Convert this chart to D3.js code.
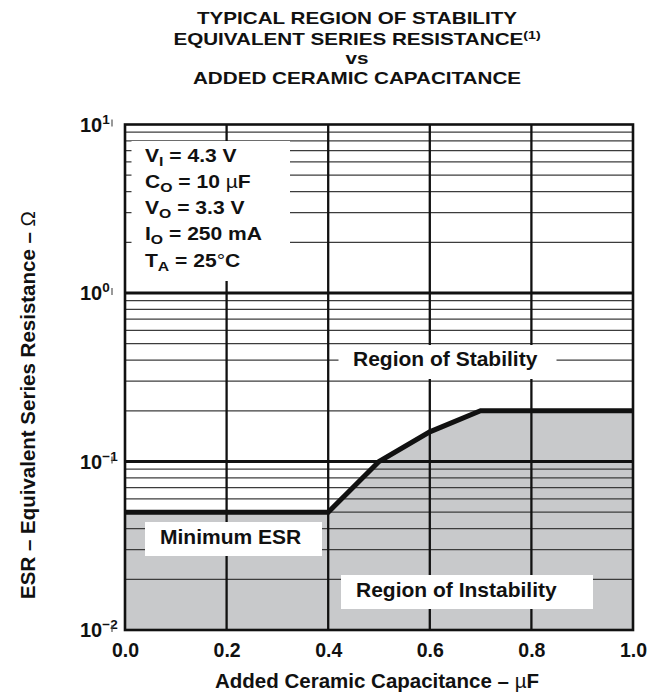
<!DOCTYPE html>
<html><head><meta charset="utf-8">
<script src="https://cdn.jsdelivr.net/npm/d3@7"></script>
<style>
body{margin:0;background:#fff}
text{font-family:"Liberation Sans",Arial,Helvetica,sans-serif;font-weight:bold;fill:#111}
</style>
</head><body>
<svg id="c" width="647" height="694"></svg>
<script>
// ---------- data ----------
const capacitance = [0, 0.4, 0.5, 0.6, 0.7, 1.0];          // µF
const minimumESR  = [0.05, 0.05, 0.1, 0.15, 0.2, 0.2];     // Ω
const xTickValues = [0, 0.2, 0.4, 0.6, 0.8, 1.0];
const yDecades    = [0.01, 0.1, 1, 10];
const yExponents  = ["−2", "−1", "0", "1"];
const titleLines  = ["TYPICAL REGION OF STABILITY", "EQUIVALENT SERIES RESISTANCE", "vs", "ADDED CERAMIC CAPACITANCE"];
const titleNote   = "(1)";
const legendLines = [["V","I"," = 4.3 V"],["C","O"," = 10 ","µ","F"],["V","O"," = 3.3 V"],["I","O"," = 250 mA"],["T","A"," = 25","°","C"]];
const regionLabels = ["Region of Stability", "Minimum ESR", "Region of Instability"];
const xTitle = "Added Ceramic Capacitance – ";
const yTitle = "ESR – Equivalent Series Resistance – ";

// ---------- scales ----------
const svg = d3.select("#c");
const x = d3.scaleLinear().domain([0, 1]).range([125, 633]);
const y = d3.scaleLog().domain([0.01, 10]).range([630, 124.5]);
const isDecade = v => Math.abs(Math.log10(v) - Math.round(Math.log10(v))) < 1e-6;
const pts = d3.zip(capacitance, minimumESR);

// helper: stretched text group
function stext(parent, tx, ty, size, sx, anchor, rot) {
  const g = parent.append("g").attr("transform",
    `translate(${tx},${ty})` + (rot ? ` rotate(${rot})` : "") + ` scale(${sx},1)`);
  return g.append("text").attr("font-size", size).attr("text-anchor", anchor || "start");
}

// ---------- fill (region of instability) ----------
svg.append("path").datum(pts)
  .attr("d", d3.area().x(d => x(d[0])).y0(y(0.01)).y1(d => y(d[1])))
  .attr("fill", "#c8c9cb");

// ---------- horizontal grid ----------
const gridY = y.ticks().filter(v => v > 0.0100001 && v < 9.9999);
svg.append("g").selectAll("line").data(gridY).join("line")
  .attr("x1", x(0)).attr("x2", x(1))
  .attr("y1", d => y(d)).attr("y2", d => y(d))
  .attr("stroke", d => isDecade(d) ? "#111" : "#3c3c3c")
  .attr("stroke-width", d => isDecade(d) ? 2.8 : 1.2);

// ---------- vertical grid ----------
svg.append("g").selectAll("line").data(xTickValues.slice(1, -1)).join("line")
  .attr("x1", d => x(d)).attr("x2", d => x(d))
  .attr("y1", y(10)).attr("y2", y(0.01))
  .attr("stroke", "#111").attr("stroke-width", 2.3);

// ---------- curve ----------
svg.append("path").datum(pts)
  .attr("d", d3.line().x(d => x(d[0])).y(d => y(d[1])))
  .attr("fill", "none").attr("stroke", "#111").attr("stroke-width", 5)
  .attr("stroke-linejoin", "miter");

// ---------- white boxes ----------
const boxes = [
  [131.5, 141, 158.5, 140],   // legend
  [338.5, 345, 218, 34],      // stability
  [145, 522, 177, 34],        // minimum ESR
  [341, 575, 252, 34]         // instability
];
svg.append("g").selectAll("rect").data(boxes).join("rect")
  .attr("x", d => d[0]).attr("y", d => d[1]).attr("width", d => d[2]).attr("height", d => d[3])
  .attr("fill", "#fff");

// ---------- border ----------
svg.append("rect").attr("x", x(0)).attr("y", y(10))
  .attr("width", x(1) - x(0)).attr("height", y(0.01) - y(10))
  .attr("fill", "none").attr("stroke", "#111").attr("stroke-width", 2.6);

// ---------- legend ----------
legendLines.forEach((ln, i) => {
  const t = stext(svg, 145, 161.5 + i * 26.3, 18, 1.17, "start");
  t.append("tspan").text(ln[0]);
  t.append("tspan").attr("font-size", 13.5).attr("dy", 4).text(ln[1]);
  t.append("tspan").attr("dy", -4).text(ln[2]);
  if (ln.length > 3) {
    t.append("tspan").attr("font-weight", "normal").text(ln[3]);
    t.append("tspan").text(ln[4]);
  }
});

// ---------- region labels ----------
const labelPos = [[353, 366], [160, 544], [356, 597]];
regionLabels.forEach((s, i) => {
  stext(svg, labelPos[i][0], labelPos[i][1], 21, 1, "start").text(s);
});

// ---------- title ----------
const titleY = [24, 45, 63.5, 84];
titleLines.forEach((s, i) => {
  const t = stext(svg, 357, titleY[i], 16, 1.29, "middle");
  t.append("tspan").text(s);
  if (i === 1) t.append("tspan").attr("font-size", 11).attr("dy", -6).text(titleNote);
});

// ---------- x axis ----------
const xAxis = svg.append("g").attr("transform", `translate(0,${y(0.01)})`)
  .call(d3.axisBottom(x).tickValues(xTickValues).tickFormat(d3.format(".1f")).tickSize(0));
xAxis.select(".domain").remove();
xAxis.selectAll("text").attr("y", 27).attr("dy", 0)
  .attr("font-size", 19.5).attr("font-family", null).attr("fill", "#111");
xAxis.attr("font-family", null).attr("font-size", null);

// ---------- y axis labels ----------
yDecades.forEach((d, i) => {
  const t = svg.append("text").attr("x", 80).attr("y", y(d) + 7).attr("font-size", 20);
  t.append("tspan").text("10");
  t.append("tspan").attr("font-size", 13.5).attr("dy", -8).text(yExponents[i]);
});
svg.append("g").selectAll("line").data(yDecades).join("line")
  .attr("x1", 112).attr("x2", 112)
  .attr("y1", d => y(d) - 5).attr("y2", d => y(d) + 2)
  .attr("stroke", "#555").attr("stroke-width", 1.2);

// ---------- axis titles ----------
const xt = svg.append("text").attr("x", 377).attr("y", 688).attr("font-size", 20.5).attr("text-anchor", "middle");
xt.append("tspan").text(xTitle);
xt.append("tspan").attr("font-weight", "normal").text("µ");
xt.append("tspan").text("F");

const yt = svg.append("text").attr("transform", "translate(35,405) rotate(-90)")
  .attr("font-size", 20.5).attr("text-anchor", "middle");
yt.append("tspan").text(yTitle);
yt.append("tspan").attr("font-weight", "normal").text("Ω");
</script>
</body></html>
